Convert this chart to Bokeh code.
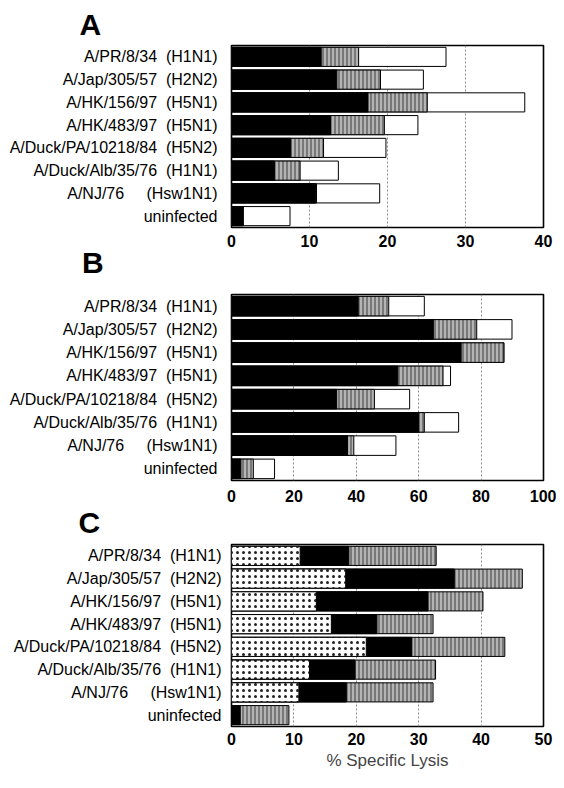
from bokeh.plotting import figure
from bokeh.models import FactorRange, Range1d, Label
from bokeh.layouts import column
from bokeh.embed import file_html
from bokeh.resources import INLINE

# ---------------- data ----------------
strains = ["A/PR/8/34", "A/Jap/305/57", "A/HK/156/97", "A/HK/483/97",
           "A/Duck/PA/10218/84", "A/Duck/Alb/35/76", "A/NJ/76", "uninfected"]
subtypes = ["(H1N1)", "(H2N2)", "(H5N1)", "(H5N1)", "(H5N2)", "(H1N1)", "(Hsw1N1)", ""]

# panel A (% specific lysis, three effector:target levels, low / mid / high)
A_low = [11.5, 13.5, 17.5, 12.7, 7.6, 5.5, 10.8, 1.5]
A_mid = [16.3, 19.1, 25.1, 19.6, 11.8, 8.8, 10.9, 1.5]
A_high = [27.5, 24.6, 37.6, 23.9, 19.8, 13.7, 19.0, 7.5]

# panel B
B_low = [40.6, 64.7, 73.6, 53.3, 33.7, 60.0, 37.2, 3.0]
B_mid = [50.4, 78.6, 87.3, 67.8, 45.8, 61.8, 39.2, 7.0]
B_high = [61.8, 89.9, 87.3, 70.2, 57.1, 72.8, 52.7, 13.8]

# panel C
C_dot = [11.0, 18.3, 13.6, 16.0, 21.6, 12.5, 10.8, 0.0]
C_black = [18.8, 35.7, 31.5, 23.3, 28.9, 19.8, 18.4, 1.4]
C_grey = [32.8, 46.6, 40.3, 32.3, 43.8, 32.7, 32.3, 9.2]

A_ticks = [0, 10, 20, 30, 40]
B_ticks = [0, 20, 40, 60, 80, 100]
C_ticks = [0, 10, 20, 30, 40, 50]

gaps = [2, 2, 2, 2, 2, 2, 5, 0]
NB = "\u00a0"
labels = [s + NB * g + t for s, g, t in zip(strains, gaps, subtypes)]

FONT = "Liberation Sans"
W = 556
BAR_H = 0.84


def make_panel(top_abs, top_b, frame_h, bot_b, left_b, right_b, ticks, standoff, tick_standoff):
    fig_h = top_b + frame_h + bot_b
    p = figure(width=W, height=fig_h,
               x_range=Range1d(ticks[0], ticks[-1]),
               y_range=FactorRange(factors=labels[::-1]),
               output_backend="svg", toolbar_location=None,
               min_border_left=left_b, min_border_right=right_b,
               min_border_top=top_b, min_border_bottom=bot_b)
    p.outline_line_color = "black"
    p.outline_line_width = 1.6
    p.background_fill_color = "white"
    p.border_fill_color = "white"
    p.xaxis.ticker = ticks
    p.xgrid.ticker = ticks
    p.xgrid.grid_line_color = "#8a8a8a"
    p.xgrid.grid_line_dash = "2 2"
    p.xgrid.grid_line_width = 1
    p.ygrid.grid_line_color = None
    for ax in (p.xaxis, p.yaxis):
        ax.axis_line_color = None
        ax.major_tick_line_color = None
        ax.minor_tick_line_color = None
        ax.major_tick_out = 0
        ax.major_tick_in = 0
        ax.major_label_text_font = FONT
        ax.major_label_text_color = "black"
    p.xaxis.major_label_text_font_size = "16px"
    p.xaxis.major_label_text_font_style = "bold"
    p.xaxis.major_label_standoff = tick_standoff
    p.yaxis.major_label_text_font_size = "16px"
    p.yaxis.major_label_standoff = standoff
    geom = dict(fig_top=top_abs, top_b=top_b, frame_h=frame_h, left=8 + left_b,
                frame_w=W - left_b - right_b, xmin=ticks[0], xmax=ticks[-1])
    return p, geom


def letter_title(p, geom, text, ax):
    p.title.text = text
    p.title.align = "left"
    p.title.offset = ax - geom["left"]
    p.title.text_font = FONT
    p.title.text_font_size = "30px"
    p.title.text_font_style = "bold"
    p.title.text_color = "black"


def letter_label(p, geom, text, ax, ay):
    # panel letter placed in the figure's lower border (side panel, not clipped to the frame)
    x = geom["xmin"] + (ax - geom["left"]) / geom["frame_w"] * (geom["xmax"] - geom["xmin"])
    y = 8 - (ay - (geom["fig_top"] + geom["top_b"])) / geom["frame_h"] * 8
    p.add_layout(Label(x=x, y=y, x_units="data", y_units="data", text=text,
                       text_font=FONT, text_font_size="30px", text_font_style="bold",
                       text_color="black", text_baseline="alphabetic", text_align="left"),
                 "below")


grey_style = dict(fill_color="#b4b4b4", hatch_pattern="vertical_line", hatch_color="#3c3c3c",
                  hatch_scale=4, hatch_weight=1, line_color="black", line_width=1)

# ---- panel A ----
pA, gA = make_panel(8, 39, 197, 46, 230, 13, A_ticks, 14, 7)
pA.hbar(y=labels, left=0, right=A_high, height=BAR_H, fill_color="white", line_color="black", line_width=1)
pA.hbar(y=labels, left=0, right=A_mid, height=BAR_H, **grey_style)
pA.hbar(y=labels, left=0, right=A_low, height=BAR_H, fill_color="black", line_color="black", line_width=1)
letter_title(pA, gA, "A", 86)
letter_label(pA, gA, "B", 88, 282)

# ---- panel B ----
pB, gB = make_panel(290, 12, 187, 56, 231, 13, B_ticks, 14, 9)
pB.title.text = ""
pB.hbar(y=labels, left=0, right=B_high, height=BAR_H, fill_color="white", line_color="black", line_width=1)
pB.hbar(y=labels, left=0, right=B_mid, height=BAR_H, **grey_style)
pB.hbar(y=labels, left=0, right=B_low, height=BAR_H, fill_color="black", line_color="black", line_width=1)
letter_label(pB, gB, "C", 86, 531)

# ---- panel C ----
pC, gC = make_panel(545, 7, 182, 46, 227, 8, C_ticks, 10, 6)
pC.title.text = ""
pC.hbar(y=labels, left=0, right=C_grey, height=BAR_H, **grey_style)
pC.hbar(y=labels, left=0, right=C_black, height=BAR_H, fill_color="black", line_color="black", line_width=1)
pC.hbar(y=labels, left=0, right=C_dot, height=BAR_H, fill_color="white", hatch_pattern="dot",
        hatch_color="#222222", hatch_scale=6, hatch_weight=1, line_color="black", line_width=1)
pC.xaxis.axis_label = "% Specific Lysis"
pC.xaxis.axis_label_text_font = FONT
pC.xaxis.axis_label_text_font_style = "normal"
pC.xaxis.axis_label_text_font_size = "17px"
pC.xaxis.axis_label_standoff = 3

layout = column(pA, pB, pC, spacing=0)
open("out.html", "w").write(file_html(layout, INLINE))
